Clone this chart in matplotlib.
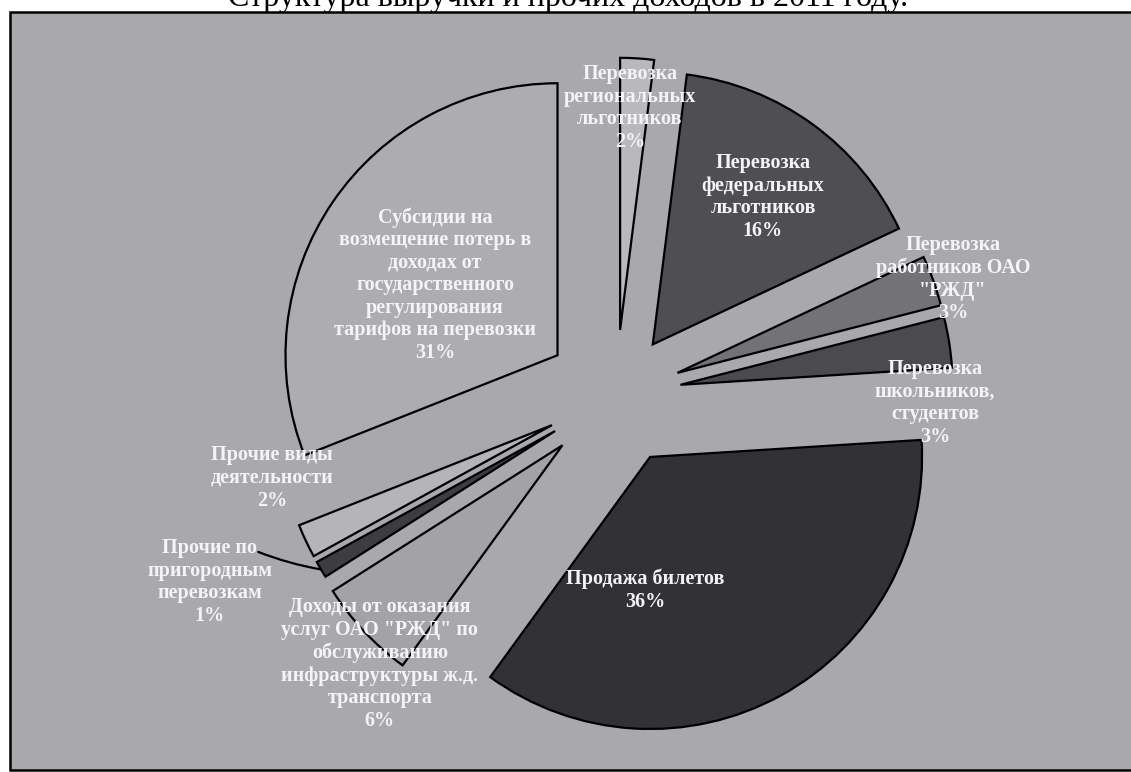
import numpy as np
import matplotlib
matplotlib.use("Agg")
import matplotlib.pyplot as plt
from matplotlib.patches import Rectangle

# данные
labels = [
    "Перевозка\nрегиональных\nльготников\n2%",
    "Перевозка\nфедеральных\nльготников\n16%",
    "Перевозка\nработников ОАО\n\"РЖД\"\n3%",
    "Перевозка\nшкольников,\nстудентов\n3%",
    "Продажа билетов\n36%",
    "Доходы от оказания\nуслуг ОАО \"РЖД\" по\nобслуживанию\nинфраструктуры ж.д.\nтранспорта\n6%",
    "Прочие по\nпригородным\nперевозкам\n1%",
    "Прочие виды\nдеятельности\n2%",
    "Субсидии на\nвозмещение потерь в\nдоходах от\nгосударственного\nрегулирования\nтарифов на перевозки\n31%",
]
shares = [2, 16, 3, 3, 36, 6, 1, 2, 31]

# оформление
colors = ["#b9b9bd", "#4f4f53", "#737377", "#4b4b4f", "#323236",
          "#a3a3a7", "#3d3d41", "#b5b5b9", "#adadb1"]
explode = [0.24, 0.23, 0.24, 0.24, 0.26, 0.27, 0.26, 0.26, 0.26]
label_xy = [(0.051, 1.055), (0.540, 0.728), (1.239, 0.426), (1.173, -0.029),
            (0.107, -0.717), (-0.868, -0.989), (-1.493, -0.688),
            (-1.265, -0.305), (-0.665, 0.404)]

W, H = 1131, 772
fig = plt.figure(figsize=(W / 100, H / 100), dpi=100)
fig.patch.set_facecolor("white")

# серый фон с рамкой
frame = Rectangle((10 / W, 2 / H), 1.2, 758 / H, transform=fig.transFigure,
                  facecolor="#a9a9ad", edgecolor="black", linewidth=1.8, zorder=0)
fig.add_artist(frame)

ax = fig.add_axes([0, 0, 1, 1], zorder=1)
ax.patch.set_visible(False)

wedges, _ = ax.pie(shares, explode=explode, colors=colors, startangle=90,
                   counterclock=False, radius=1,
                   wedgeprops=dict(edgecolor="black", linewidth=1.6))

R = 272.0
cx, cy = 616, 395
ax.set_aspect("auto")
ax.set_xlim(-cx / R, (W - cx) / R)
ax.set_ylim(-(H - cy) / R, cy / R)
ax.axis("off")

for lab, (x, y) in zip(labels, label_xy):
    ax.text(x, y, lab, ha="center", va="center", color="#f4f4f4",
            fontsize=14.5, fontweight="bold", family="Liberation Serif",
            linespacing=1.17)

# линия-выноска для маленького сектора
w = wedges[6]
th = np.deg2rad((w.theta1 + w.theta2) / 2)
pt = (w.center[0] + w.r * np.cos(th), w.center[1] + w.r * np.sin(th))
ax.annotate("", xy=pt, xytext=(-1.315, -0.577),
            arrowprops=dict(arrowstyle="-", color="black", lw=1.6,
                            connectionstyle="arc3,rad=0.05", shrinkA=0, shrinkB=0))

fig.text(0.502, 1 - 6 / H, "Структура выручки и прочих доходов в 2011 году.",
         ha="center", va="baseline", fontsize=23, family="Liberation Serif")

fig.savefig("out.png", dpi=100)
